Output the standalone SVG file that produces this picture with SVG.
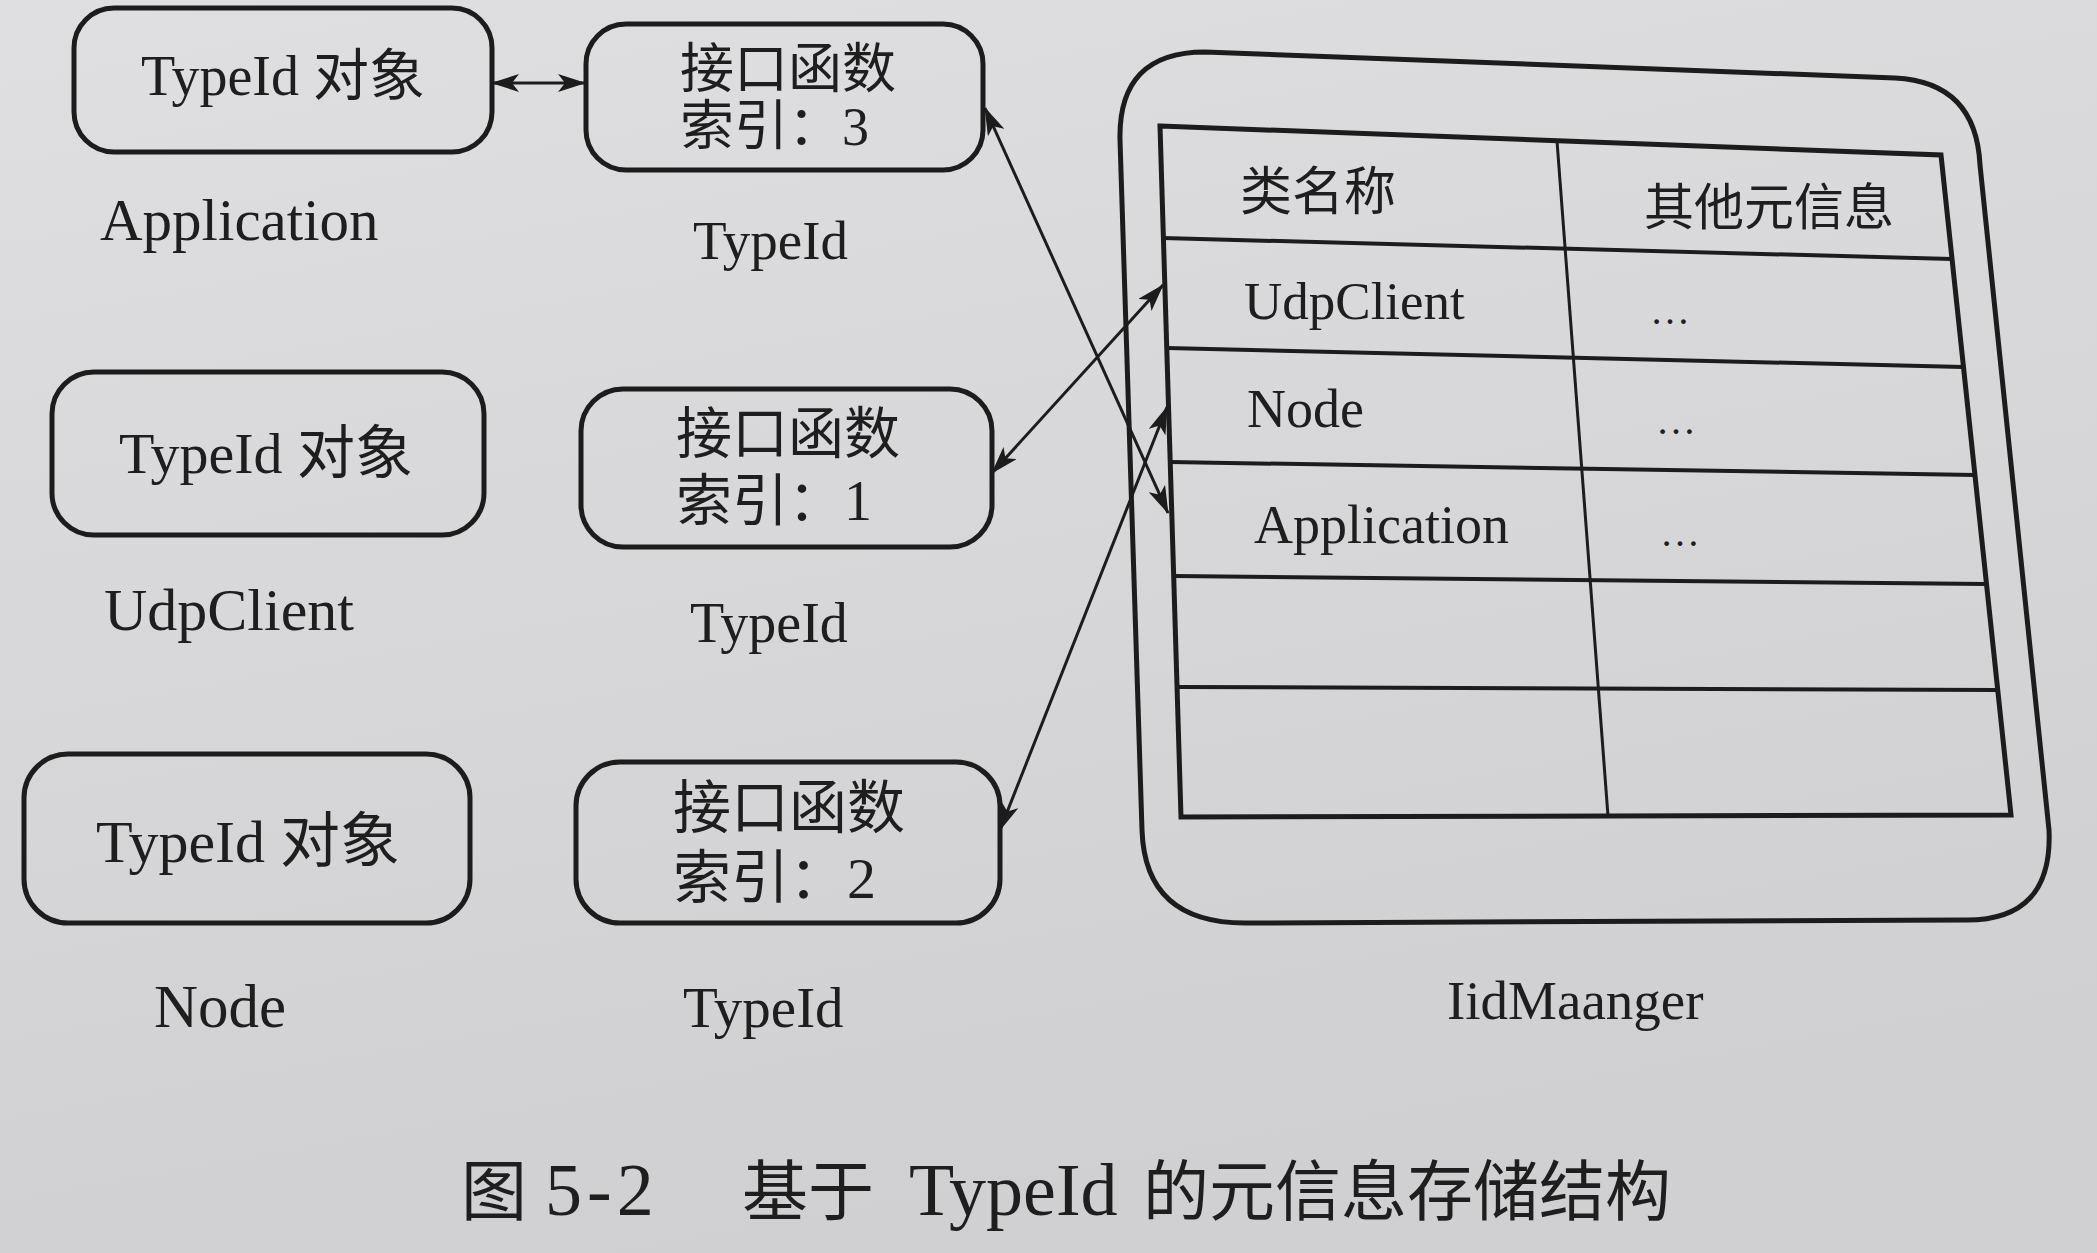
<svg xmlns="http://www.w3.org/2000/svg" width="2097" height="1253" viewBox="0 0 2097 1253">
<defs>
<linearGradient id="bg" x1="0" y1="0" x2="0.3" y2="1">
<stop offset="0" stop-color="#dfdfe2"/>
<stop offset="1" stop-color="#d0d0d3"/>
</linearGradient>
<marker id="ah" viewBox="0 0 28 18" refX="27" refY="9" markerWidth="28" markerHeight="18" markerUnits="userSpaceOnUse" orient="auto-start-reverse">
<path d="M0,0 L28,9 L0,18 L7,9 Z" fill="#1c1c1c"/>
</marker>
<style>
.box{fill:none;stroke:#1c1c1c;stroke-width:5}
.tbl{fill:none;stroke:#1c1c1c;stroke-width:5}
.row{fill:none;stroke:#1c1c1c;stroke-width:4}
.col{fill:none;stroke:#1c1c1c;stroke-width:3}
.t{font-family:"Liberation Serif","Noto Sans CJK SC",serif;fill:#1e1e1e}
.conn{stroke:#1c1c1c;stroke-width:3;fill:none;marker-start:url(#ah);marker-end:url(#ah)}
</style>
</defs>
<rect x="0" y="0" width="2097" height="1253" fill="url(#bg)"/>

<g id="obj-application">
<rect class="box" x="74" y="8" width="418" height="144" rx="40"/>
<text class="t" x="283" y="95" font-size="56" text-anchor="middle">TypeId 对象</text>
<text class="t" x="100" y="240" font-size="59">Application</text>
</g>
<g id="typeid-3">
<rect class="box" x="586" y="24" width="397" height="146" rx="40"/>
<text class="t" x="680" y="88" font-size="54">接口函数</text>
<text class="t" x="680" y="145" font-size="54">索引：3</text>
<text class="t" x="693" y="259" font-size="55">TypeId</text>
</g>

<g id="obj-udpclient">
<rect class="box" x="52" y="372" width="432" height="163" rx="42"/>
<text class="t" x="266" y="473" font-size="58" text-anchor="middle">TypeId 对象</text>
<text class="t" x="104" y="630" font-size="60">UdpClient</text>
</g>
<g id="typeid-1">
<rect class="box" x="581" y="389" width="411" height="158" rx="42"/>
<text class="t" x="676" y="453" font-size="56">接口函数</text>
<text class="t" x="676" y="520" font-size="56">索引：1</text>
<text class="t" x="690" y="642" font-size="56">TypeId</text>
</g>

<g id="obj-node">
<rect class="box" x="24" y="754" width="446" height="169" rx="44"/>
<text class="t" x="248" y="862" font-size="60" text-anchor="middle">TypeId 对象</text>
<text class="t" x="154" y="1027" font-size="61">Node</text>
</g>
<g id="typeid-2">
<rect class="box" x="576" y="762" width="424" height="161" rx="44"/>
<text class="t" x="673" y="828" font-size="58">接口函数</text>
<text class="t" x="673" y="898" font-size="58">索引：2</text>
<text class="t" x="683" y="1027" font-size="57">TypeId</text>
</g>

<g id="iidmanager">
<path class="box" d="M1120,140 Q1118,52 1205,52 L1895,78 Q1976,82 1980,165 L2049,830 Q2053,921 1965,920 L1245,923 Q1145,923 1142,830 Z"/>
<path class="tbl" d="M1160,126 L1941,155 L2011,815 L1181,817 Z"/>
<line class="row" x1="1163" y1="238" x2="1952" y2="259"/>
<line class="row" x1="1167" y1="348" x2="1963" y2="367"/>
<line class="row" x1="1170" y1="462" x2="1975" y2="475"/>
<line class="row" x1="1174" y1="576" x2="1986" y2="584"/>
<line class="row" x1="1177" y1="687" x2="1998" y2="690"/>
<line class="col" x1="1557" y1="141" x2="1608" y2="816"/>
<text class="t" x="1240" y="210" font-size="52">类名称</text>
<text class="t" x="1644" y="225" font-size="50">其他元信息</text>
<text class="t" x="1244" y="319" font-size="53">UdpClient</text>
<text class="t" x="1650" y="324" font-size="40">…</text>
<text class="t" x="1247" y="427" font-size="54">Node</text>
<text class="t" x="1656" y="434" font-size="40">…</text>
<text class="t" x="1254" y="543" font-size="54">Application</text>
<text class="t" x="1660" y="546" font-size="40">…</text>
<text class="t" x="1447" y="1019" font-size="55">IidMaanger</text>
</g>

<g id="connectors">
<line class="conn" x1="492" y1="83" x2="585" y2="83"/>
<line class="conn" x1="985" y1="108" x2="1168" y2="513"/>
<line class="conn" x1="992" y1="473" x2="1163" y2="285"/>
<line class="conn" x1="1000" y1="830" x2="1167" y2="407"/>
</g>

<g id="caption">
<text class="t" y="1215" font-size="66"><tspan x="461">图</tspan><tspan x="545" font-size="74" letter-spacing="5">5-2</tspan><tspan x="742">基于</tspan><tspan x="909" font-size="74">TypeId</tspan><tspan x="1143">的元信息存储结构</tspan></text>
</g>
</svg>
